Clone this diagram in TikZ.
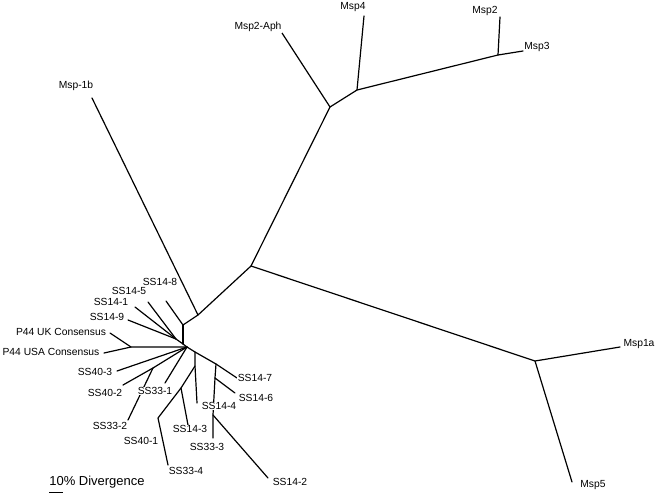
\documentclass[tikz,border=0pt]{standalone}
\usepackage{fontspec}
\setmainfont{Liberation Sans}
\begin{document}
\begin{tikzpicture}[x=1pt,y={(0pt,-1pt)},
  branch/.style={line width=1.2pt, line cap=round, line join=round},
  scalebar/.style={line width=1pt},
  lbl/.style={font=\fontsize{10.3}{12}\selectfont, inner sep=0.8pt, fill=white},
  scalelbl/.style={font=\fontsize{13}{15}\selectfont, inner sep=0pt}]
\fill[white] (0,0) rectangle (656,496);
\useasboundingbox (0,0) rectangle (656,496);
% internal nodes
\coordinate (H) at (187,347);
\coordinate (M) at (183,344);
\coordinate (D) at (176,339);
\coordinate (B) at (183,325);
\coordinate (A) at (198,315);
\coordinate (N) at (251,266);
\coordinate (O) at (330,107);
\coordinate (R) at (357,90);
\coordinate (S) at (498,55);
\coordinate (Q) at (535,361);
\coordinate (P) at (131,347);
\coordinate (E) at (153,368);
\coordinate (L) at (195,352);
\coordinate (I) at (216,364);
\coordinate (F) at (195,366);
\coordinate (G) at (181,388);
\coordinate (T) at (158,418);
\coordinate (J) at (215,378);
\coordinate (K) at (213,415);
% leaf tips
\coordinate (tMsp1b) at (92,98);
\coordinate (tAph) at (282,33);
\coordinate (tMsp4) at (364,16);
\coordinate (tMsp2) at (500,17);
\coordinate (tMsp3) at (523,51);
\coordinate (tMsp1a) at (620,347);
\coordinate (tMsp5) at (572,482);
\coordinate (t148) at (166,301);
\coordinate (t145) at (148,302);
\coordinate (t141) at (135,307);
\coordinate (t149) at (128,320);
\coordinate (tUK) at (110,333);
\coordinate (tUSA) at (104,353);
\coordinate (t403) at (117,371);
\coordinate (t402) at (123,385);
\coordinate (t332) at (128,420);
\coordinate (t331) at (165,383);
\coordinate (t147) at (237,378);
\coordinate (t144) at (197,403);
\coordinate (t143) at (188,425);
\coordinate (t334) at (168,465);
\coordinate (t146) at (235,393);
\coordinate (t333) at (213,438);
\coordinate (t142) at (268,478);
\coordinate (bar1) at (49,492.5);
\coordinate (bar2) at (63,492.5);
% branches
\draw[branch] (tMsp1b) -- (A) -- (N) -- (O) -- (tAph);
\draw[branch] (O) -- (R) -- (tMsp4);
\draw[branch] (R) -- (S) -- (tMsp2);
\draw[branch] (S) -- (tMsp3);
\draw[branch] (N) -- (Q) -- (tMsp1a);
\draw[branch] (Q) -- (tMsp5);
\draw[branch] (A) -- (B) -- (t148);
\draw[branch] (B) -- (M);
\draw[branch] (H) -- (M) -- (D);
\draw[branch] (D) -- (t145);
\draw[branch] (D) -- (t141);
\draw[branch] (D) -- (t149);
\draw[branch] (H) -- (P) -- (tUK);
\draw[branch] (P) -- (tUSA);
\draw[branch] (H) -- (t403);
\draw[branch] (H) -- (E) -- (t402);
\draw[branch] (E) -- (t332);
\draw[branch] (H) -- (t331);
\draw[branch] (H) -- (L) -- (I) -- (t147);
\draw[branch] (L) -- (F) -- (t144);
\draw[branch] (F) -- (G) -- (T) -- (t334);
\draw[branch] (G) -- (t143);
\draw[branch] (I) -- (J) -- (t146);
\draw[branch] (J) -- (K) -- (t333);
\draw[branch] (K) -- (t142);
\draw[scalebar] (bar1) -- (bar2);
% labels
\node[lbl] (lMsp1b) at (76,86) {Msp-1b};
\node[lbl] (lAph) at (258,27) {Msp2-Aph};
\node[lbl] (lMsp4) at (353,7) {Msp4};
\node[lbl] (lMsp2) at (485,11) {Msp2};
\node[lbl] (lMsp3) at (537,47) {Msp3};
\node[lbl] (lMsp1a) at (639,344) {Msp1a};
\node[lbl] (lMsp5) at (593,485) {Msp5};
\node[lbl] (l148) at (160,282) {SS14-8};
\node[lbl] (l145) at (129,291) {SS14-5};
\node[lbl] (l141) at (111,302) {SS14-1};
\node[lbl] (l149) at (107,317) {SS14-9};
\node[lbl] (lUK) at (61,332) {P44 UK Consensus};
\node[lbl] (lUSA) at (51,352) {P44 USA Consensus};
\node[lbl] (l403) at (95,372) {SS40-3};
\node[lbl] (l402) at (105,393) {SS40-2};
\node[lbl] (l332) at (110,426) {SS33-2};
\node[lbl] (l331) at (155,391) {SS33-1};
\node[lbl] (l401) at (141,441) {SS40-1};
\node[lbl] (l334) at (186,471) {SS33-4};
\node[lbl] (l143) at (190,429) {SS14-3};
\node[lbl] (l333) at (207,447) {SS33-3};
\node[lbl] (l144) at (219,406) {SS14-4};
\node[lbl] (l147) at (255,378) {SS14-7};
\node[lbl] (l146) at (256,398) {SS14-6};
\node[lbl] (l142) at (290,482) {SS14-2};
\node[scalelbl] (lscale) at (97,482) {10\% Divergence};
\end{tikzpicture}
\end{document}
